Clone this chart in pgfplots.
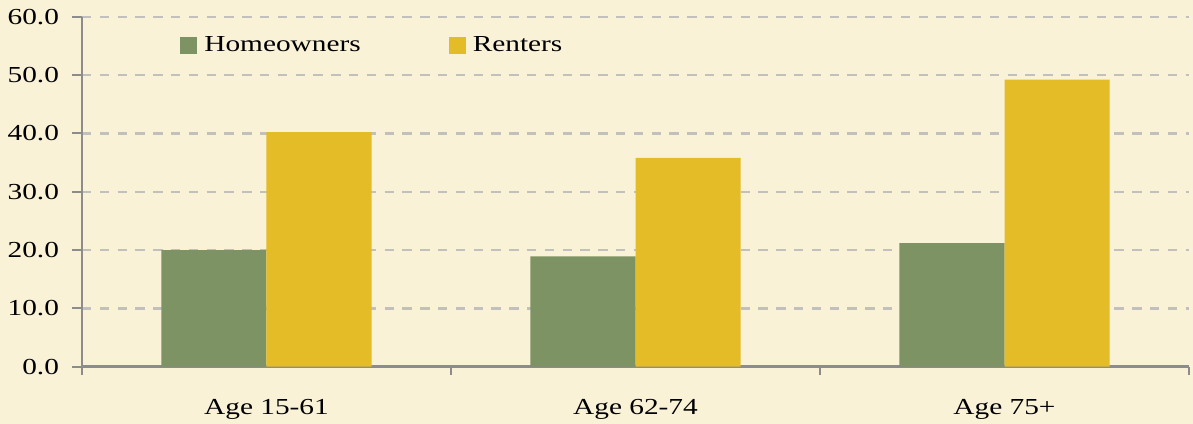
\documentclass[border=0pt]{standalone}
\usepackage{graphicx}
\usepackage{fontspec}
\setmainfont{Liberation Serif}
\usepackage{pgfplots}
\usepackage{pgfplotstable}
\pgfplotsset{compat=1.18}
\usetikzlibrary{backgrounds}

\definecolor{bgcol}{HTML}{FAF2D7}
\definecolor{homecol}{HTML}{7E9363}
\definecolor{rentcol}{HTML}{E4BC28}
\definecolor{gridcol}{HTML}{C2C0BC}
\definecolor{axcol}{HTML}{8C8C8C}
% the reference's text is stretched sideways
\newcommand{\wide}[1]{\scalebox{1.28}[1]{#1}}

\pgfplotstableread{
x home rent
0 20.0 40.2
1 18.9 35.8
2 21.2 49.2
}\datatable

\begin{document}
\begin{tikzpicture}
\begin{axis}[
  scale only axis, width=553.5bp, height=175bp,
  xmin=-0.5, xmax=2.5, ymin=0, ymax=60,
  ybar=0pt, bar width=0.285,
  axis x line*=bottom, axis y line*=left,
  axis line style={draw=axcol, line width=1.4bp, -},
  tick align=outside, major tick length=5bp,
  xtick={0,1,2},
  xticklabels={\wide{Age 15-61},\wide{Age 62-74},\wide{Age 75+}},
  x tick style={draw=none},
  xticklabel style={yshift=-8bp},
  extra x ticks={-0.5,0.5,1.5,2.5}, extra x tick labels={},
  extra x tick style={grid=none, major tick length=4bp,
    x tick style={draw=axcol, line width=1bp}},
  ytick={0,10,...,60},
  yticklabel={\wide{\pgfmathprintnumber[fixed,fixed zerofill,precision=1,assume math mode=true]{\tick}}},
  yticklabel style={xshift=-3bp},
  y tick style={draw=axcol, line width=1bp},
  tick label style={font=\fontsize{11.5}{13}\selectfont, text=black},
  ymajorgrids,
  major grid style={draw=gridcol, line width=1.2bp, dash pattern=on 4.7bp off 4.2bp},
  legend columns=2,
  legend style={at={(0.0885,0.918)}, anchor=west, draw=none, fill=none,
    inner sep=0pt, column sep=3.5bp, nodes={inner sep=0pt},
    font=\fontsize{11.5}{13}\selectfont},
]
\addplot[fill=homecol, draw=none,
  legend image code/.code={\fill[homecol] (0bp,-4.25bp) rectangle (8.5bp,4.25bp);}]
  table[x=x, y=home]{\datatable};
\addlegendentry{\wide{Homeowners}\rule{40.5bp}{0pt}}
\addplot[fill=rentcol, draw=none,
  legend image code/.code={\fill[rentcol] (0bp,-4.25bp) rectangle (8.5bp,4.25bp);}]
  table[x=x, y=rent]{\datatable};
\addlegendentry{\wide{Renters}}
\end{axis}
\begin{scope}[on background layer]
  \fill[bgcol] ([xshift=-41bp,yshift=-28.65bp]current axis.south west)
    rectangle ([xshift=2bp,yshift=8.35bp]current axis.north east);
\end{scope}
\pgfresetboundingbox
\path[use as bounding box] ([xshift=-41bp,yshift=-28.65bp]current axis.south west)
  rectangle ([xshift=2bp,yshift=8.35bp]current axis.north east);
\end{tikzpicture}
\end{document}
